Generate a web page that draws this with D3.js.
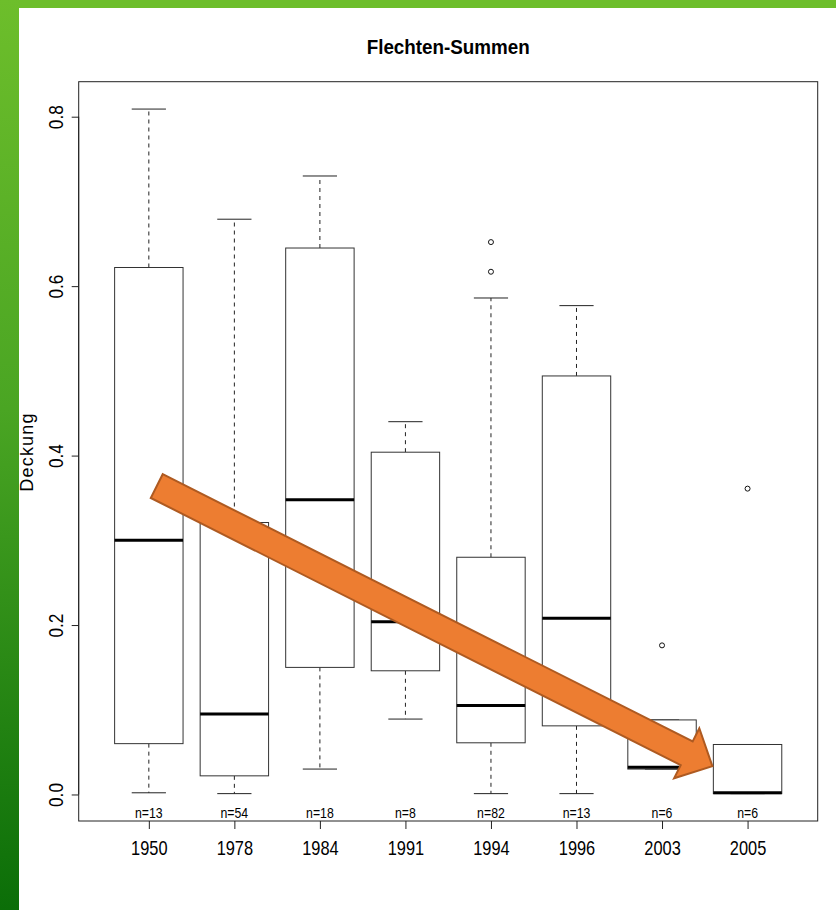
<!DOCTYPE html>
<html>
<head>
<meta charset="utf-8">
<script src="https://cdn.jsdelivr.net/npm/d3@7"></script>
<style>
  body { margin: 0; background: #fff; }
  svg { display: block; }
</style>
</head>
<body>
<div id="chart"></div>
<script>
// --- data ---
const years     = ["1950", "1978", "1984", "1991", "1994", "1996", "2003", "2005"];
const whiskLow  = [0.002, 0.001, 0.030, 0.089, 0.001, 0.001, 0.030, 0.001];
const q1        = [0.060, 0.022, 0.150, 0.146, 0.061, 0.081, 0.030, 0.001];
const medians   = [0.300, 0.095, 0.348, 0.204, 0.105, 0.208, 0.032, 0.002];
const q3        = [0.622, 0.321, 0.645, 0.404, 0.280, 0.494, 0.088, 0.059];
const whiskHigh = [0.809, 0.679, 0.730, 0.440, 0.586, 0.577, 0.088, 0.059];
const outliers  = [[], [], [], [], [0.617, 0.652], [], [0.176], [0.361]];
const counts    = [13, 54, 18, 8, 82, 13, 6, 6];
const yTicks    = [0.0, 0.2, 0.4, 0.6, 0.8];

// arrow annotation, in data coordinates (group position, value)
const arrowTail = [1.0925, 0.364];
const arrowTip  = [7.589, 0.0334];

const width = 836, height = 910;
const plot = { left: 78.7, right: 817.7, top: 81.7, bottom: 821 };
const sans = "'Liberation Sans', Arial, sans-serif";
const squeeze = 0.82;   // the picture's labels use a condensed face

const boxes = years.map((y, i) => ({
    pos: i + 1, year: y, lo: whiskLow[i], q1: q1[i], med: medians[i],
    q3: q3[i], hi: whiskHigh[i], out: outliers[i], n: counts[i]
}));

const svg = d3.select("#chart")
              .append("svg")
              .attr("width", width)
              .attr("height", height);

// green frame
const defs = svg.append("defs");
const grad = defs.append("linearGradient")
                 .attr("id", "side")
                 .attr("x1", 0).attr("y1", 0).attr("x2", 0).attr("y2", 1);
grad.append("stop").attr("offset", 0).attr("stop-color", "#6dbe2b");
grad.append("stop").attr("offset", 0.45).attr("stop-color", "#4aa523");
grad.append("stop").attr("offset", 1).attr("stop-color", "#0b6e08");

svg.append("rect")
   .attr("x", 0).attr("y", 0)
   .attr("width", width).attr("height", 8)
   .attr("fill", "#6dbe2b");
svg.append("rect")
   .attr("x", 0).attr("y", 0)
   .attr("width", 19).attr("height", height)
   .attr("fill", "url(#side)");

const xScale = d3.scaleLinear()
                 .domain([0.18, 8.82])
                 .range([plot.left, plot.right]);

const yScale = d3.scaleLinear()
                 .domain([-0.0313, 0.8413])
                 .range([plot.bottom, plot.top]);

const boxW = xScale(1.4) - xScale(1);
const capW = xScale(1.2) - xScale(1);

const g = svg.append("g");

// whiskers
g.selectAll("line.wlo")
 .data(boxes)
 .join("line")
 .attr("class", "wlo")
 .attr("x1", d => xScale(d.pos)).attr("x2", d => xScale(d.pos))
 .attr("y1", d => yScale(d.q1)).attr("y2", d => yScale(d.lo))
 .attr("stroke", "#222").attr("stroke-dasharray", "4,4");

g.selectAll("line.whi")
 .data(boxes)
 .join("line")
 .attr("class", "whi")
 .attr("x1", d => xScale(d.pos)).attr("x2", d => xScale(d.pos))
 .attr("y1", d => yScale(d.q3)).attr("y2", d => yScale(d.hi))
 .attr("stroke", "#222").attr("stroke-dasharray", "4,4");

// caps
g.selectAll("line.caplo")
 .data(boxes)
 .join("line")
 .attr("class", "caplo")
 .attr("x1", d => xScale(d.pos) - capW).attr("x2", d => xScale(d.pos) + capW)
 .attr("y1", d => yScale(d.lo)).attr("y2", d => yScale(d.lo))
 .attr("stroke", "#222");

g.selectAll("line.caphi")
 .data(boxes)
 .join("line")
 .attr("class", "caphi")
 .attr("x1", d => xScale(d.pos) - capW).attr("x2", d => xScale(d.pos) + capW)
 .attr("y1", d => yScale(d.hi)).attr("y2", d => yScale(d.hi))
 .attr("stroke", "#222");

// boxes
g.selectAll("rect.box")
 .data(boxes)
 .join("rect")
 .attr("class", "box")
 .attr("x", d => xScale(d.pos) - boxW)
 .attr("y", d => yScale(d.q3))
 .attr("width", 2 * boxW)
 .attr("height", d => yScale(d.q1) - yScale(d.q3))
 .attr("fill", "#fff")
 .attr("stroke", "#333");

// medians
g.selectAll("line.med")
 .data(boxes)
 .join("line")
 .attr("class", "med")
 .attr("x1", d => xScale(d.pos) - boxW).attr("x2", d => xScale(d.pos) + boxW)
 .attr("y1", d => yScale(d.med)).attr("y2", d => yScale(d.med))
 .attr("stroke", "#000").attr("stroke-width", 3);

// outliers
g.selectAll("circle")
 .data(boxes.flatMap(d => d.out.map(v => ({ pos: d.pos, v }))))
 .join("circle")
 .attr("cx", d => xScale(d.pos))
 .attr("cy", d => yScale(d.v))
 .attr("r", 2.5)
 .attr("fill", "none")
 .attr("stroke", "#111");

// n labels
g.selectAll("text.n")
 .data(boxes)
 .join("text")
 .attr("class", "n")
 .attr("transform", d => `translate(${xScale(d.pos)}, 818) scale(${squeeze}, 1)`)
 .attr("text-anchor", "middle")
 .style("font-family", sans)
 .style("font-size", "15px")
 .text(d => "n=" + d.n);

// plot frame
svg.append("rect")
   .attr("x", plot.left).attr("y", plot.top)
   .attr("width", plot.right - plot.left)
   .attr("height", plot.bottom - plot.top)
   .attr("fill", "none")
   .attr("stroke", "#222");

// x axis
const xAxis = svg.append("g")
                 .attr("transform", `translate(0, ${plot.bottom})`)
                 .call(d3.axisBottom(xScale)
                         .tickValues(boxes.map(d => d.pos))
                         .tickFormat(p => years[p - 1])
                         .tickSize(8)
                         .tickPadding(12));
xAxis.select(".domain").remove();
xAxis.selectAll("line").attr("stroke", "#222");
xAxis.selectAll("text")
     .attr("fill", "#000")
     .attr("transform", `scale(${squeeze}, 1)`)
     .style("font-family", sans)
     .style("font-size", "20px");

// y axis
const yAxis = svg.append("g")
                 .attr("transform", `translate(${plot.left}, 0)`)
                 .call(d3.axisLeft(yScale)
                         .tickValues(yTicks)
                         .tickFormat(d3.format(".1f"))
                         .tickSize(7));
yAxis.select(".domain")
     .attr("d", `M0,${yScale(0)}V${yScale(0.8)}`)
     .attr("stroke", "#222");
yAxis.selectAll("line").attr("stroke", "#222");
yAxis.selectAll("text")
     .attr("x", 0).attr("dy", null)
     .attr("text-anchor", "middle")
     .attr("transform", `translate(-16, 0) rotate(-90) scale(${squeeze}, 1)`)
     .attr("fill", "#000")
     .style("font-family", sans)
     .style("font-size", "21px");

// title
svg.append("text")
   .attr("x", (plot.left + plot.right) / 2)
   .attr("y", 54.3)
   .attr("text-anchor", "middle")
   .attr("textLength", 163)
   .attr("lengthAdjust", "spacingAndGlyphs")
   .style("font-family", sans)
   .style("font-weight", "bold")
   .style("font-size", "20px")
   .text("Flechten-Summen");

// y label
svg.append("text")
   .attr("transform", "translate(33, 452) rotate(-90)")
   .attr("text-anchor", "middle")
   .style("font-family", sans)
   .style("font-size", "18px")
   .style("letter-spacing", "1.2px")
   .text("Deckung");

// orange arrow
const t0 = [xScale(arrowTail[0]), yScale(arrowTail[1])];
const t1 = [xScale(arrowTip[0]), yScale(arrowTip[1])];
const len = Math.hypot(t1[0] - t0[0], t1[1] - t0[1]);
const ang = Math.atan2(t1[1] - t0[1], t1[0] - t0[0]) * 180 / Math.PI;
const shaftHalf = 13.3, headLen = 28.8, headHalf = 28;
const arrowPts = [
    [0, -shaftHalf], [len - headLen, -shaftHalf], [len - headLen, -headHalf],
    [len, 0], [len - headLen, headHalf], [len - headLen, shaftHalf], [0, shaftHalf]
];
svg.append("path")
   .attr("transform", `translate(${t0[0]}, ${t0[1]}) rotate(${ang})`)
   .attr("d", d3.line()(arrowPts) + "Z")
   .attr("fill", "#ed7d31")
   .attr("stroke", "#ae5a21")
   .attr("stroke-width", 2)
   .attr("stroke-linejoin", "miter");
</script>
</body>
</html>
